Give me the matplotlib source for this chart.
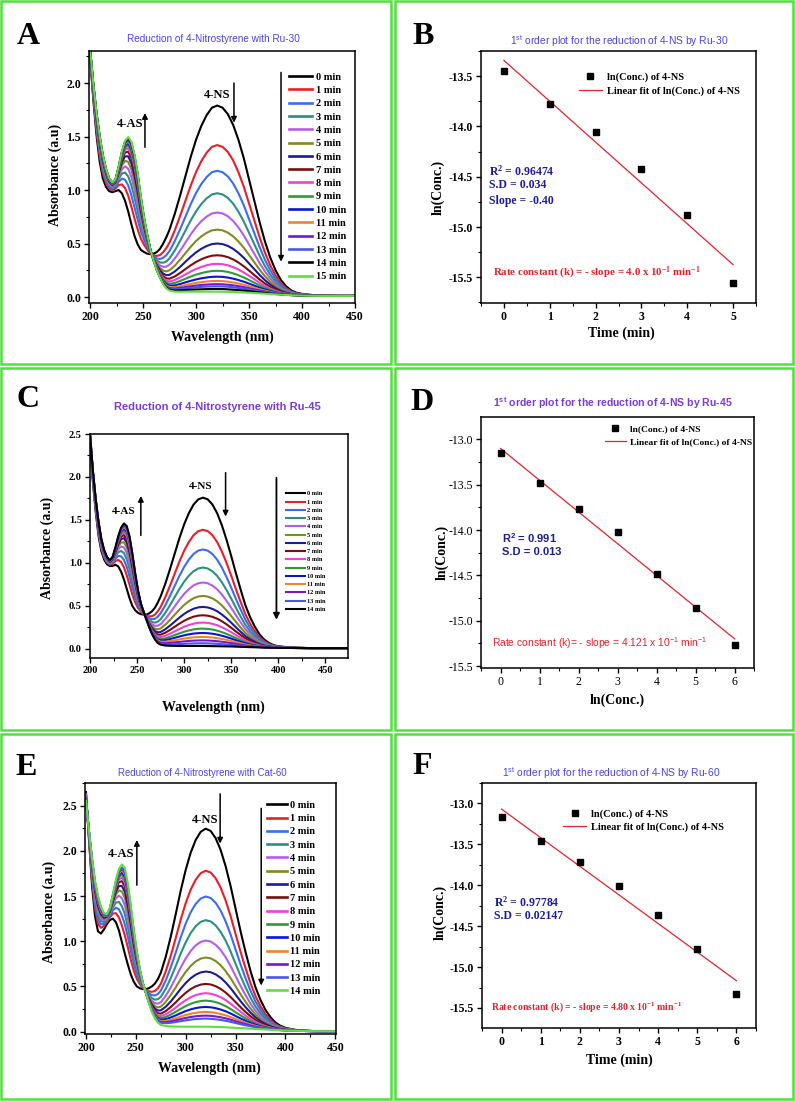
import numpy as np
import matplotlib
matplotlib.use("Agg")
import matplotlib.pyplot as plt
from matplotlib.patches import Rectangle
from matplotlib import font_manager as fm
from matplotlib.ticker import MultipleLocator, FormatStrFormatter

# ---------------------------------------------------------------- data
# Panel A : UV-vis spectra, Ru-30 (0..15 min)
labels_A = ["0 min", "1 min", "2 min", "3 min", "4 min", "5 min", "6 min", "7 min",
            "8 min", "9 min", "10 min", "11 min", "12 min", "13 min", "14 min", "15 min"]
peak_A = [1.79, 1.42, 1.18, 0.97, 0.79, 0.63, 0.50, 0.39, 0.31, 0.245, 0.19, 0.15,
          0.12, 0.10, 0.075, 0.05]
wl_A = [200, 203, 206, 209, 212, 215, 218, 221, 224, 227, 230, 233, 236, 239, 242, 245,
        248, 251, 254, 257, 260, 263, 266, 269, 272, 275,
        280, 285, 290, 295, 300, 305, 310, 315, 320, 325, 330, 335, 340, 345, 350, 355,
        360, 365, 370, 375, 380, 385, 390, 395, 400, 410, 420, 435, 450]
start_A = [2.25, 1.85, 1.52, 1.27, 1.11, 1.03, 0.99, 0.98, 0.99, 1.00, 0.97, 0.90, 0.80,
           0.68, 0.57, 0.49, 0.44, 0.42, 0.405, 0.40, 0.405, 0.42, 0.45, 0.50, 0.56, 0.63,
           0.78, 0.95, 1.13, 1.31, 1.47, 1.60, 1.70, 1.77, 1.79, 1.77, 1.71, 1.61, 1.47,
           1.30, 1.10, 0.90, 0.70, 0.52, 0.37, 0.25, 0.16, 0.10, 0.06, 0.04, 0.03, 0.018,
           0.012, 0.01, 0.01]
end_A = [2.32, 2.00, 1.73, 1.51, 1.33, 1.20, 1.11, 1.07, 1.10, 1.22, 1.36, 1.46, 1.495,
         1.45, 1.33, 1.15, 0.93, 0.74, 0.58, 0.44, 0.34, 0.25, 0.18, 0.12, 0.08, 0.06,
         0.05, 0.049, 0.05, 0.05, 0.05, 0.05, 0.05, 0.05, 0.05, 0.05, 0.048, 0.046, 0.044,
         0.042, 0.04, 0.037, 0.034, 0.031, 0.028, 0.025, 0.022, 0.019, 0.017, 0.015,
         0.013, 0.011, 0.01, 0.01, 0.01]

# Panel C : UV-vis spectra, Ru-45 (0..14 min)
labels_C = labels_A[:15]
peak_C = [1.76, 1.386, 1.157, 0.947, 0.773, 0.617, 0.489, 0.392, 0.307, 0.237, 0.186,
          0.14, 0.10, 0.066, 0.035]
wl_C = [200, 203, 206, 209, 212, 215, 218, 221, 224, 227, 230, 233, 236, 239, 242, 245,
        248, 251, 254, 257, 260, 263, 266, 269, 272, 275,
        280, 285, 290, 295, 300, 305, 310, 315, 320, 325, 330, 335, 340, 345, 350, 355,
        360, 365, 370, 375, 380, 385, 390, 395, 400, 410, 420, 435, 450, 475]
start_C = [2.40, 1.95, 1.60, 1.32, 1.14, 1.04, 0.985, 0.965, 0.965, 0.98, 0.96, 0.90,
           0.81, 0.70, 0.59, 0.50, 0.45, 0.42, 0.405, 0.40, 0.40, 0.415, 0.44, 0.48,
           0.54, 0.61, 0.76, 0.93, 1.11, 1.29, 1.45, 1.58, 1.68, 1.74, 1.76, 1.74, 1.68,
           1.58, 1.44, 1.27, 1.08, 0.88, 0.69, 0.51, 0.37, 0.26, 0.17, 0.11, 0.07, 0.045,
           0.032, 0.02, 0.014, 0.01, 0.01, 0.01]
end_C = [2.50, 2.08, 1.75, 1.48, 1.28, 1.15, 1.07, 1.03, 1.07, 1.18, 1.31, 1.41, 1.46,
         1.43, 1.31, 1.11, 0.88, 0.68, 0.53, 0.43, 0.34, 0.25, 0.17, 0.11, 0.07, 0.05,
         0.04, 0.037, 0.036, 0.035, 0.035, 0.035, 0.035, 0.035, 0.035, 0.034, 0.033,
         0.032, 0.031, 0.03, 0.029, 0.027, 0.025, 0.023, 0.021, 0.02, 0.018, 0.016,
         0.015, 0.014, 0.013, 0.012, 0.011, 0.01, 0.01, 0.01]

# Panel E : UV-vis spectra, Cat-60 (0..14 min)
labels_E = labels_A[:15]
peak_E = [2.245, 1.78, 1.495, 1.233, 1.008, 0.82, 0.665, 0.528, 0.425, 0.343, 0.273,
          0.218, 0.177, 0.144, 0.055]
wl_E = wl_A
start_E = [2.65, 2.12, 1.62, 1.28, 1.11, 1.085, 1.13, 1.19, 1.235, 1.25, 1.21, 1.12,
           0.99, 0.86, 0.74, 0.63, 0.55, 0.50, 0.48, 0.47, 0.47, 0.48, 0.50, 0.53, 0.58,
           0.65, 0.83, 1.05, 1.30, 1.56, 1.79, 1.98, 2.12, 2.21, 2.245, 2.22, 2.14, 2.01,
           1.83, 1.61, 1.36, 1.11, 0.88, 0.67, 0.49, 0.35, 0.24, 0.16, 0.10, 0.065, 0.042,
           0.02, 0.01, 0.004, 0.0]
end_E = [2.55, 2.22, 1.92, 1.67, 1.50, 1.38, 1.31, 1.30, 1.37, 1.52, 1.68, 1.80, 1.85,
         1.81, 1.64, 1.39, 1.12, 0.89, 0.69, 0.54, 0.43, 0.32, 0.22, 0.15, 0.10, 0.075,
         0.062, 0.058, 0.056, 0.055, 0.055, 0.055, 0.055, 0.055, 0.055, 0.054, 0.052,
         0.05, 0.048, 0.045, 0.042, 0.039, 0.036, 0.033, 0.03, 0.027, 0.024, 0.021,
         0.018, 0.015, 0.012, 0.009, 0.007, 0.005, 0.004]

# Kinetic plots
time_B = [0, 1, 2, 3, 4, 5]
lnc_B = [-13.45, -13.78, -14.06, -14.42, -14.88, -15.56]
time_D = [0, 1, 2, 3, 4, 5, 6]
lnc_D = [-13.157, -13.487, -13.769, -14.025, -14.486, -14.863, -15.262]
time_F = [0, 1, 2, 3, 4, 5, 6]
lnc_F = [-13.163, -13.461, -13.718, -14.011, -14.362, -14.778, -15.333]

# ---------------------------------------------------------------- style
plt.rcParams['axes.unicode_minus'] = False


def has_font(name):
    try:
        fm.findfont(fm.FontProperties(family=name), fallback_to_default=False)
        return True
    except Exception:
        return False


SERIF = "Liberation Serif"
SANS = "Liberation Sans Narrow" if has_font("Liberation Sans Narrow") else "Liberation Sans"

CURVE_COLORS = ['#000000', '#ee1c24', '#3a6cf4', '#2a9080', '#b55cf0', '#7f8c1e',
                '#1a1a9c', '#7d0d0d', '#f040d8', '#2e9c35', '#0a14d8', '#f5822a',
                '#7418d0', '#4a55f0', '#000000', '#5de03a']
TITLE_BLUE = '#4b45e6'
TITLE_PURPLE = '#7a3ce0'
NAVY = '#1c1c96'
RED = '#e8202a'
GREEN = '#4fe23a'

W, H = 795, 1101
fig = plt.figure(figsize=(W / 100, H / 100), dpi=100)
fig.patch.set_facecolor('white')


def px_axes(l, t, r, b):
    return fig.add_axes([l / W, 1 - b / H, (r - l) / W, (b - t) / H])


def frame(l, t, r, b):
    fig.patches.append(Rectangle((l / W, 1 - b / H), (r - l) / W, (b - t) / H,
                                 transform=fig.transFigure, fill=False,
                                 ec=GREEN, lw=1.8, zorder=0))


def letter(x, y, s):
    fig.text(x / W, 1 - y / H, s, fontfamily=SERIF, fontweight='bold',
             fontsize=23, va='baseline', ha='left')


def style_axes(ax, xmaj, xmin, ymaj, ymin, yfmt, bold=True, tsize=8.5):
    for sp in ax.spines.values():
        sp.set_linewidth(1.1)
    ax.xaxis.set_major_locator(MultipleLocator(xmaj))
    ax.xaxis.set_minor_locator(MultipleLocator(xmin))
    ax.yaxis.set_major_locator(MultipleLocator(ymaj))
    ax.yaxis.set_minor_locator(MultipleLocator(ymin))
    ax.yaxis.set_major_formatter(FormatStrFormatter(yfmt))
    ax.tick_params(which='major', direction='out', length=3.8, width=1.0, pad=2)
    ax.tick_params(which='minor', direction='out', length=2.2, width=0.8)
    for lab in ax.get_xticklabels() + ax.get_yticklabels():
        lab.set_fontfamily(SERIF)
        lab.set_fontweight('bold' if bold else 'normal')
        lab.set_fontsize(tsize)


def labels(ax, xl, yl, xpos, ypos, size=10):
    ax.set_xlabel(xl, fontfamily=SERIF, fontweight='bold', fontsize=size)
    ax.set_ylabel(yl, fontfamily=SERIF, fontweight='bold', fontsize=size)
    ax.xaxis.set_label_coords(*xpos)
    ax.yaxis.set_label_coords(*ypos)
    ax.xaxis.label.set_va('center')
    ax.yaxis.label.set_va('center')


def spectra(ax, wl, start, end, peaks, labs, colors, lw=1.5):
    wl = np.asarray(wl, float)
    s = np.asarray(start, float)
    e = np.asarray(end, float)
    p = np.asarray(peaks, float)
    frac = (p - p[-1]) / (p[0] - p[-1])
    handles = []
    for f, c, lab in zip(frac, colors, labs):
        h, = ax.plot(wl, e + f * (s - e), color=c, lw=lw, label=lab,
                     solid_joinstyle='round')
        handles.append(h)
    return handles


def arrow(ax, x, y0, y1, lw=1.1, ms=8):
    ax.annotate('', xy=(x, y1), xytext=(x, y0),
                arrowprops=dict(arrowstyle='-|>', color='black', lw=lw,
                                mutation_scale=ms, shrinkA=0, shrinkB=0))


def kinetic(ax, t, y, leg_xy, mfs=5, lsize=7.5):
    t = np.asarray(t, float)
    y = np.asarray(y, float)
    ax.plot(t, y, 's', color='black', ms=mfs, label='ln(Conc.) of 4-NS', zorder=3)
    k, b0 = np.polyfit(t, y, 1)
    ax.plot([t[0], t[-1]], [b0 + k * t[0], b0 + k * t[-1]], color=RED, lw=0.9,
            label='Linear fit of ln(Conc.) of 4-NS')
    ax.legend(loc='upper left', bbox_to_anchor=leg_xy, frameon=False,
              prop=dict(family=SERIF, weight='bold', size=lsize),
              handlelength=2.2, handletextpad=0.5, labelspacing=0.4,
              borderpad=0, borderaxespad=0)


# ---------------------------------------------------------------- frames
for rect in [(1, 1, 391, 364), (395, 1, 793, 364), (1, 368, 391, 730),
             (395, 368, 793, 730), (1, 734, 391, 1099), (395, 734, 793, 1099)]:
    frame(*rect)

# ---------------------------------------------------------------- A
axA = px_axes(89, 51, 355, 303)
hA = spectra(axA, wl_A, start_A, end_A, peak_A, labels_A, CURVE_COLORS)
axA.set_xlim(199, 450)
axA.set_ylim(-0.056, 2.3)
style_axes(axA, 50, 25, 0.5, 0.25, '%.1f')
labels(axA, 'Wavelength (nm)', 'Absorbance (a.u)', (0.5, -0.135), (-0.128, 0.508))
axA.text(0.466, 1.048, 'Reduction of 4-Nitrostyrene with Ru-30', transform=axA.transAxes,
         ha='center', va='center', color=TITLE_BLUE, fontfamily=SANS, fontsize=7.2)
axA.text(237.7, 1.62, '4-AS', ha='center', va='center', fontfamily=SERIF,
         fontweight='bold', fontsize=9)
arrow(axA, 251.8, 1.40, 1.72)
axA.text(319.8, 1.89, '4-NS', ha='center', va='center', fontfamily=SERIF,
         fontweight='bold', fontsize=9)
arrow(axA, 335.8, 2.0, 1.63)
arrow(axA, 380.2, 2.10, 0.33)
legA = axA.legend(handles=hA, loc='upper left', bbox_to_anchor=(0.752, 0.915),
                  frameon=False, prop=dict(family=SERIF, weight='bold', size=7.5),
                  handlelength=2.2, handletextpad=0.35, labelspacing=0.385,
                  borderpad=0, borderaxespad=0)
for ln in legA.get_lines():
    ln.set_linewidth(1.9)
letter(17, 44, 'A')

# ---------------------------------------------------------------- B
axB = px_axes(481, 51, 756, 303)
kinetic(axB, time_B, lnc_B, (0.356, 0.915))
axB.set_xlim(-0.5, 5.5)
axB.set_ylim(-15.755, -13.25)
style_axes(axB, 1, 0.5, 0.5, 0.25, '%.1f')
labels(axB, 'Time (min)', 'ln(Conc.)', (0.51, -0.12), (-0.155, 0.46))
axB.text(0.502, 1.04, r'1$\mathregular{^{st}}$ order plot for the reduction of 4-NS by Ru-30',
         transform=axB.transAxes, ha='center', va='center', color=TITLE_BLUE,
         fontfamily=SANS, fontsize=7.4)
for txt, yy in [(r'R$\mathregular{^2}$ = 0.96474', 0.524), ('S.D = 0.034', 0.468),
                ('Slope = -0.40', 0.405)]:
    axB.text(0.029, yy, txt, transform=axB.transAxes, ha='left', va='center',
             color=NAVY, fontfamily=SERIF, fontweight='bold', fontsize=8.5)
axB.text(0.044, 0.119, r'Rate constant (k) = - slope = 4.0 x 10$\mathregular{^{-1}}$ min$\mathregular{^{-1}}$',
         transform=axB.transAxes, ha='left', va='center', color=RED,
         fontfamily=SERIF, fontweight='bold', fontsize=7.8)
letter(412, 44, 'B')

# ---------------------------------------------------------------- C
axC = px_axes(90, 434, 348, 658)
hC = spectra(axC, wl_C, start_C, end_C, peak_C, labels_C, CURVE_COLORS[:15])
axC.set_xlim(200, 474)
axC.set_ylim(-0.105, 2.5)
style_axes(axC, 50, 25, 0.5, 0.25, '%.1f', tsize=7.5)
labels(axC, 'Wavelength (nm)', 'Absorbance (a.u)', (0.48, -0.22), (-0.167, 0.49))
axC.text(0.492, 1.121, 'Reduction of 4-Nitrostyrene with Ru-45', transform=axC.transAxes,
         ha='center', va='center', color=TITLE_PURPLE, fontfamily=SANS,
         fontweight='bold', fontsize=8)
axC.text(236, 1.60, '4-AS', ha='center', va='center', fontfamily=SERIF,
         fontweight='bold', fontsize=8)
arrow(axC, 254, 1.32, 1.78)
axC.text(318, 1.89, '4-NS', ha='center', va='center', fontfamily=SERIF,
         fontweight='bold', fontsize=8)
arrow(axC, 344, 2.05, 1.54)
arrow(axC, 398, 1.99, 0.34, lw=1.3, ms=9)
axC.legend(handles=hC, loc='upper left', bbox_to_anchor=(0.760, 0.745), frameon=False,
           prop=dict(family=SERIF, weight='bold', size=4.5), handlelength=3.0,
           handletextpad=0.4, labelspacing=0.46, borderpad=0, borderaxespad=0)
letter(17, 407, 'C')

# ---------------------------------------------------------------- D
axD = px_axes(481, 417, 754, 668)
kinetic(axD, time_D, lnc_D, (0.454, 0.968), lsize=6.8)
axD.set_xlim(-0.5, 6.5)
axD.set_ylim(-15.52, -12.755)
style_axes(axD, 1, 0.5, 0.5, 0.25, '%.1f', bold=False)
labels(axD, 'ln(Conc.)', 'ln(Conc.)', (0.5, -0.13), (-0.143, 0.46))
axD.text(0.484, 1.056, r'1$\mathregular{^{st}}$ order plot for the reduction of 4-NS by Ru-45',
         transform=axD.transAxes, ha='center', va='center', color=TITLE_PURPLE,
         fontfamily=SANS, fontweight='bold', fontsize=7.6)
for txt, yy in [(r'R$\mathregular{^2}$ = 0.991', 0.518), ('S.D = 0.013', 0.462)]:
    axD.text(0.077, yy, txt, transform=axD.transAxes, ha='left', va='center',
             color=NAVY, fontfamily=SANS, fontweight='bold', fontsize=8)
axD.text(0.040, 0.100, r'Rate constant (k)= - slope = 4.121 x 10$\mathregular{^{-1}}$ min$\mathregular{^{-1}}$',
         transform=axD.transAxes, ha='left', va='center', color=RED,
         fontfamily=SANS, fontsize=7.4)
letter(410, 410, 'D')

# ---------------------------------------------------------------- E
axE = px_axes(85, 783, 336, 1034)
hE = spectra(axE, wl_E, start_E, end_E, peak_E, labels_E,
             CURVE_COLORS[:14] + [CURVE_COLORS[15]])
axE.set_xlim(199, 450.7)
axE.set_ylim(-0.026, 2.75)
style_axes(axE, 50, 25, 0.5, 0.25, '%.1f')
labels(axE, 'Wavelength (nm)', 'Absorbance (a.u)', (0.494, -0.135), (-0.143, 0.486))
axE.text(0.466, 1.04, 'Reduction of 4-Nitrostyrene with Cat-60', transform=axE.transAxes,
         ha='center', va='center', color=TITLE_BLUE, fontfamily=SANS, fontsize=6.9)
axE.text(235, 1.965, '4-AS', ha='center', va='center', fontfamily=SERIF,
         fontweight='bold', fontsize=9)
arrow(axE, 251, 1.62, 2.12)
axE.text(319.5, 2.345, '4-NS', ha='center', va='center', fontfamily=SERIF,
         fontweight='bold', fontsize=9)
arrow(axE, 334.5, 2.63, 2.08)
arrow(axE, 375.7, 2.47, 0.51)
legE = axE.legend(handles=hE, loc='upper left', bbox_to_anchor=(0.725, 0.93),
                  frameon=False, prop=dict(family=SERIF, weight='bold', size=7.5),
                  handlelength=1.9, handletextpad=0.35, labelspacing=0.385,
                  borderpad=0, borderaxespad=0)
for ln in legE.get_lines():
    ln.set_linewidth(1.9)
letter(15, 775, 'E')

# ---------------------------------------------------------------- F
axF = px_axes(482, 783, 756, 1028)
kinetic(axF, time_F, lnc_F, (0.296, 0.894))
axF.set_xlim(-0.5, 6.5)
axF.set_ylim(-15.745, -12.75)
style_axes(axF, 1, 0.5, 0.5, 0.25, '%.1f')
labels(axF, 'Time (min)', 'ln(Conc.)', (0.5, -0.13), (-0.153, 0.47))
axF.text(0.471, 1.041, r'1$\mathregular{^{st}}$ order plot for the reduction of 4-NS by Ru-60',
         transform=axF.transAxes, ha='center', va='center', color=TITLE_BLUE,
         fontfamily=SANS, fontsize=7.4)
for txt, yy in [(r'R$\mathregular{^2}$ = 0.97784', 0.514), ('S.D = 0.02147', 0.457)]:
    axF.text(0.044, yy, txt, transform=axF.transAxes, ha='left', va='center',
             color=NAVY, fontfamily=SERIF, fontweight='bold', fontsize=8.5)
axF.text(0.033, 0.086, r'Rate constant (k) = - slope = 4.80 x 10$\mathregular{^{-1}}$ min$\mathregular{^{-1}}$',
         transform=axF.transAxes, ha='left', va='center', color=RED,
         fontfamily=SERIF, fontweight='bold', fontsize=7)
letter(412, 774, 'F')

fig.savefig('out.png', dpi=100)
